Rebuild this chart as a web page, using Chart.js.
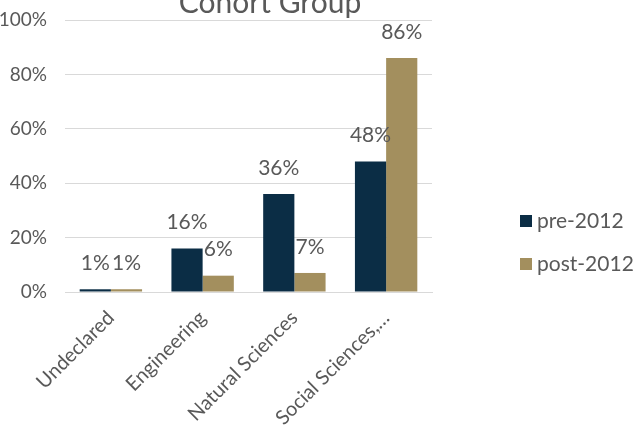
<!DOCTYPE html>
<html>
<head>
<meta charset="utf-8">
<script src="https://cdn.jsdelivr.net/npm/chart.js@4/dist/chart.umd.min.js"></script>
<style>
  html, body { margin: 0; padding: 0; background: #fff; }
  #wrap { width: 636px; height: 434px; position: relative; }
</style>
</head>
<body>
<div id="wrap"><canvas id="chartCohort"></canvas></div>
<script>
const chartTitle = "Cohort Group";
const categories = ["Undeclared", "Engineering", "Natural Sciences", "Social Sciences,…"];
const seriesNames = ["pre-2012", "post-2012"];
const pre2012 = [1, 16, 36, 48];
const post2012 = [1, 6, 7, 86];
const yTicks = [0, 20, 40, 60, 80, 100];

const textColor = "#595959";
const fontFamily = "Lato, 'Open Sans', sans-serif";
const fontSize = 21;

// value labels above each bar
const barLabels = {
  id: "barLabels",
  afterDatasetsDraw(chart) {
    const ctx = chart.ctx;
    ctx.save();
    ctx.font = fontSize + "px " + fontFamily;
    ctx.fillStyle = textColor;
    ctx.textAlign = "center";
    ctx.textBaseline = "middle";
    chart.data.datasets.forEach(function (ds, i) {
      chart.getDatasetMeta(i).data.forEach(function (bar, j) {
        ctx.fillText(ds.data[j] + "%", bar.x, bar.y - 26);
      });
    });
    ctx.restore();
  }
};

// title partly cut off at the top + legend on the right, like the original
const titleAndLegend = {
  id: "titleAndLegend",
  afterDraw(chart) {
    const ctx = chart.ctx;
    ctx.save();
    ctx.font = "30px " + fontFamily;
    ctx.fillStyle = textColor;
    ctx.textAlign = "center";
    ctx.textBaseline = "alphabetic";
    ctx.fillText(chartTitle, 270, 13);

    ctx.font = fontSize + "px " + fontFamily;
    ctx.textAlign = "left";
    ctx.textBaseline = "middle";
    chart.data.datasets.forEach(function (ds, i) {
      const y = 221 + i * 43;
      ctx.fillStyle = ds.backgroundColor;
      ctx.fillRect(520, y - 6, 12, 12);
      ctx.fillStyle = textColor;
      ctx.fillText(ds.label, 537, y);
    });
    ctx.restore();
  }
};

const ctx = document.getElementById("chartCohort").getContext("2d");
const myChart = new Chart(ctx, {
  type: "bar",
  data: {
    labels: categories,
    datasets: [
      {
        label: seriesNames[0],
        data: pre2012,
        backgroundColor: "#0b2d45",
        categoryPercentage: 0.68,
        barPercentage: 1.0,
      },
      {
        label: seriesNames[1],
        data: post2012,
        backgroundColor: "#a38f5e",
        categoryPercentage: 0.68,
        barPercentage: 1.0,
      },
    ],
  },
  options: {
    responsive: true,
    maintainAspectRatio: false,
    animation: false,
    layout: { padding: { top: 20, left: 0, right: 204, bottom: 0 } },
    plugins: {
      legend: { display: false },
      tooltip: { enabled: false },
      title: { display: false },
    },
    scales: {
      x: {
        afterFit(scale) {
          scale.height = 142;
        },
        grid: { display: false },
        border: { color: "#d9d9d9" },
        ticks: {
          color: textColor,
          font: { size: 20, family: fontFamily },
          minRotation: 45,
          maxRotation: 45,
          padding: 6,
        },
      },
      y: {
        min: 0,
        max: 100,
        afterFit(scale) {
          scale.width = 65;
          scale.paddingTop = 11;
          scale.paddingBottom = 11;
        },
        afterBuildTicks(axis) {
          axis.ticks = yTicks.map((v) => ({ value: v }));
        },
        grid: { color: "#d9d9d9", drawTicks: false },
        border: { display: false },
        ticks: {
          color: textColor,
          font: { size: 19, family: fontFamily },
          padding: 18,
          callback: (v) => v + "%",
        },
      },
    },
  },
  plugins: [barLabels, titleAndLegend],
});
</script>
</body>
</html>
